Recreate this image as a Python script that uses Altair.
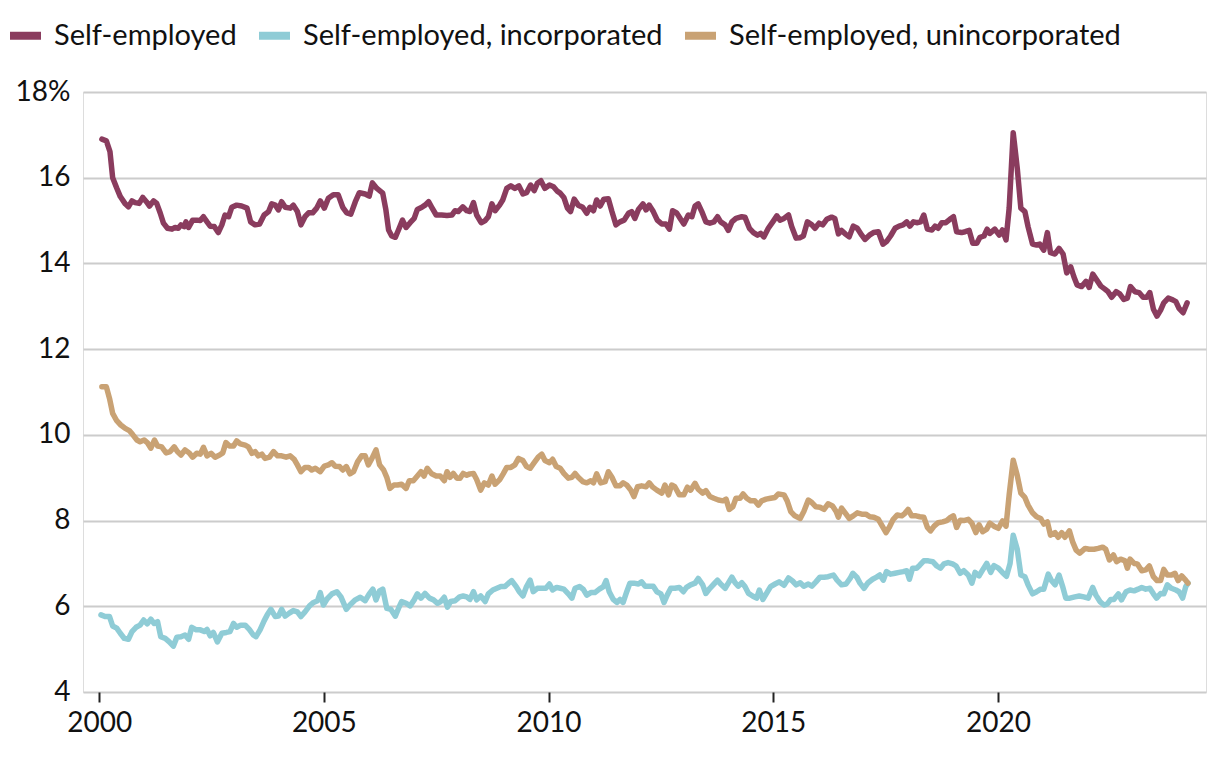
import altair as alt
import pandas as pd

series_names = ["Self-employed", "Self-employed, incorporated", "Self-employed, unincorporated"]
series_colors = ["#8a3c5e", "#8fccd6", "#c9a274"]
y_ticks = [4, 6, 8, 10, 12, 14, 16, 18]
x_ticks = [2000, 2005, 2010, 2015, 2020]

# (decimal year, percent)
self_employed = [
(2000.06,16.90),(2000.16,16.86),(2000.24,16.61),(2000.30,16.00),(2000.39,15.76),(2000.47,15.56),(2000.58,15.39),(2000.65,15.32),(2000.73,15.46),(2000.80,15.42),(2000.89,15.40),(2000.97,15.54),
(2001.05,15.44),(2001.12,15.34),(2001.21,15.46),(2001.28,15.40),(2001.36,15.17),(2001.43,14.94),(2001.52,14.82),(2001.62,14.80),(2001.69,14.84),(2001.76,14.82),(2001.82,14.90),(2001.89,14.86),(2001.93,14.97),(2001.99,14.84),
(2002.08,15.01),(2002.17,15.01),(2002.25,15.00),(2002.32,15.09),(2002.40,14.97),(2002.47,14.87),(2002.56,14.86),(2002.65,14.72),(2002.73,14.90),(2002.80,15.13),(2002.88,15.09),(2002.95,15.31),
(2003.06,15.36),(2003.17,15.34),(2003.29,15.29),(2003.37,14.97),(2003.47,14.90),(2003.57,14.92),(2003.67,15.13),(2003.77,15.21),(2003.84,15.39),(2003.92,15.36),(2003.99,15.25),
(2004.06,15.44),(2004.14,15.31),(2004.25,15.29),(2004.32,15.36),(2004.41,15.21),(2004.49,14.90),(2004.58,15.09),(2004.66,15.18),(2004.75,15.18),(2004.84,15.29),(2004.92,15.46),
(2005.01,15.29),(2005.10,15.52),(2005.21,15.60),(2005.32,15.60),(2005.42,15.31),(2005.51,15.18),(2005.60,15.15),(2005.70,15.44),(2005.79,15.65),(2005.92,15.62),
(2006.01,15.57),(2006.08,15.88),(2006.18,15.75),(2006.31,15.64),(2006.38,15.25),(2006.44,14.78),(2006.51,14.64),(2006.59,14.61),(2006.66,14.78),(2006.75,15.01),(2006.83,14.84),(2006.92,14.95),
(2007.01,15.05),(2007.08,15.26),(2007.18,15.31),(2007.25,15.36),(2007.33,15.44),(2007.40,15.31),(2007.50,15.13),(2007.62,15.13),(2007.74,15.12),(2007.85,15.13),(2007.92,15.23),(2007.99,15.21),
(2008.09,15.32),(2008.18,15.23),(2008.25,15.21),(2008.33,15.42),(2008.40,15.13),(2008.50,14.95),(2008.59,15.00),(2008.66,15.09),(2008.74,15.39),(2008.81,15.23),(2008.91,15.36),(2008.98,15.48),
(2009.07,15.75),(2009.16,15.81),(2009.25,15.75),(2009.34,15.81),(2009.43,15.62),(2009.51,15.65),(2009.60,15.83),(2009.68,15.70),(2009.75,15.87),(2009.83,15.93),(2009.92,15.75),
(2010.02,15.83),(2010.11,15.79),(2010.20,15.68),(2010.26,15.64),(2010.34,15.54),(2010.42,15.29),(2010.49,15.21),(2010.57,15.50),(2010.66,15.36),(2010.76,15.31),(2010.85,15.17),(2010.92,15.31),
(2011.00,15.23),(2011.07,15.48),(2011.15,15.34),(2011.23,15.50),(2011.33,15.51),(2011.41,15.21),(2011.50,14.90),(2011.59,14.97),(2011.68,15.01),(2011.78,15.17),(2011.85,15.21),(2011.92,15.05),
(2012.00,15.26),(2012.10,15.39),(2012.17,15.25),(2012.24,15.36),(2012.33,15.21),(2012.42,15.01),(2012.52,14.92),(2012.61,14.92),(2012.69,14.80),(2012.76,15.23),(2012.85,15.18),(2012.94,15.03),
(2013.01,14.92),(2013.11,15.13),(2013.19,15.09),(2013.26,15.34),(2013.33,15.39),(2013.41,15.21),(2013.50,14.97),(2013.59,14.94),(2013.68,14.97),(2013.76,15.09),(2013.83,14.97),(2013.93,14.90),
(2014.00,14.77),(2014.08,14.97),(2014.17,15.05),(2014.30,15.09),(2014.37,15.08),(2014.47,14.82),(2014.56,14.72),(2014.65,14.66),(2014.72,14.70),(2014.79,14.62),(2014.89,14.82),(2014.99,14.97),
(2015.08,15.11),(2015.15,15.01),(2015.24,15.05),(2015.34,15.13),(2015.41,14.86),(2015.51,14.59),(2015.59,14.60),(2015.67,14.64),(2015.76,14.97),(2015.86,14.90),(2015.93,14.82),
(2016.02,14.94),(2016.10,14.90),(2016.19,15.03),(2016.30,15.08),(2016.37,15.05),(2016.45,14.69),(2016.52,14.77),(2016.60,14.69),(2016.69,14.62),(2016.78,14.87),(2016.87,14.82),(2016.97,14.66),
(2017.04,14.56),(2017.14,14.66),(2017.23,14.72),(2017.34,14.74),(2017.44,14.45),(2017.52,14.51),(2017.61,14.64),(2017.71,14.82),(2017.80,14.87),(2017.89,14.90),(2017.97,14.97),
(2018.04,14.87),(2018.12,14.97),(2018.21,14.95),(2018.28,14.97),(2018.35,15.13),(2018.43,14.80),(2018.53,14.78),(2018.60,14.87),(2018.67,14.82),(2018.75,14.95),(2018.84,14.95),(2018.93,15.03),
(2019.01,15.09),(2019.08,14.74),(2019.19,14.72),(2019.27,14.74),(2019.36,14.77),(2019.44,14.47),(2019.53,14.47),(2019.60,14.61),(2019.69,14.64),(2019.76,14.80),(2019.82,14.70),(2019.93,14.80),
(2020.03,14.66),(2020.10,14.78),(2020.18,14.55),(2020.25,15.29),(2020.34,17.05),(2020.43,16.22),(2020.51,15.29),(2020.60,15.21),(2020.67,14.86),(2020.77,14.45),(2020.86,14.43),(2020.93,14.45),
(2021.02,14.31),(2021.10,14.72),(2021.17,14.25),(2021.27,14.22),(2021.36,14.35),(2021.45,14.22),(2021.53,13.78),(2021.62,13.92),(2021.69,13.69),(2021.76,13.50),(2021.86,13.46),(2021.96,13.58),
(2022.03,13.44),(2022.11,13.75),(2022.20,13.61),(2022.29,13.47),(2022.38,13.40),(2022.45,13.34),(2022.53,13.21),(2022.63,13.34),(2022.71,13.29),(2022.80,13.16),(2022.88,13.19),(2022.95,13.46),
(2023.05,13.34),(2023.14,13.32),(2023.23,13.21),(2023.31,13.21),(2023.38,13.32),(2023.46,12.93),(2023.54,12.77),(2023.62,12.91),(2023.69,13.08),(2023.79,13.19),(2023.89,13.15),(2023.96,13.11),
(2024.03,12.95),(2024.12,12.85),(2024.21,13.08),
]

incorporated = [
(2000.04,5.80),(2000.13,5.76),(2000.23,5.76),(2000.30,5.54),(2000.39,5.49),(2000.47,5.37),(2000.56,5.25),(2000.65,5.23),(2000.73,5.41),(2000.82,5.51),(2000.91,5.56),(2000.99,5.68),
(2001.07,5.59),(2001.15,5.70),(2001.22,5.60),(2001.30,5.64),(2001.37,5.29),(2001.47,5.25),(2001.56,5.17),(2001.65,5.07),(2001.73,5.28),(2001.82,5.29),(2001.91,5.33),(2001.99,5.23),
(2002.06,5.51),(2002.16,5.45),(2002.25,5.45),(2002.34,5.41),(2002.40,5.46),(2002.47,5.31),(2002.54,5.39),(2002.63,5.17),(2002.73,5.37),(2002.83,5.39),(2002.91,5.41),(2002.99,5.60),
(2003.06,5.51),(2003.15,5.56),(2003.25,5.56),(2003.34,5.46),(2003.43,5.33),(2003.49,5.29),(2003.58,5.45),(2003.67,5.66),(2003.74,5.80),(2003.82,5.93),(2003.92,5.76),(2003.99,5.77),
(2004.06,5.93),(2004.14,5.77),(2004.23,5.84),(2004.32,5.90),(2004.41,5.87),(2004.49,5.76),(2004.58,5.87),(2004.68,6.01),(2004.77,6.09),(2004.86,6.13),(2004.92,6.32),(2004.99,6.03),
(2005.07,6.17),(2005.18,6.29),(2005.29,6.34),(2005.38,6.22),(2005.50,5.93),(2005.58,6.03),(2005.70,6.15),(2005.81,6.21),(2005.92,6.13),
(2006.01,6.29),(2006.09,6.40),(2006.16,6.15),(2006.24,6.36),(2006.31,6.40),(2006.40,5.95),(2006.49,5.93),(2006.59,5.77),(2006.66,5.95),(2006.73,6.11),(2006.83,6.07),(2006.92,6.01),
(2007.01,6.15),(2007.08,6.29),(2007.16,6.19),(2007.25,6.30),(2007.35,6.19),(2007.44,6.15),(2007.53,6.07),(2007.60,6.11),(2007.68,6.21),(2007.75,5.98),(2007.82,6.11),(2007.92,6.13),
(2008.02,6.22),(2008.10,6.24),(2008.18,6.22),(2008.25,6.16),(2008.33,6.34),(2008.40,6.15),(2008.49,6.24),(2008.59,6.11),(2008.66,6.29),(2008.76,6.38),(2008.85,6.42),(2008.94,6.46),
(2009.03,6.46),(2009.11,6.54),(2009.18,6.60),(2009.28,6.46),(2009.35,6.34),(2009.43,6.24),(2009.51,6.46),(2009.59,6.61),(2009.66,6.34),(2009.75,6.42),(2009.85,6.42),(2009.94,6.42),
(2010.02,6.52),(2010.09,6.38),(2010.18,6.44),(2010.26,6.42),(2010.34,6.40),(2010.44,6.29),(2010.52,6.19),(2010.59,6.42),(2010.69,6.46),(2010.77,6.40),(2010.85,6.26),(2010.94,6.32),
(2011.03,6.32),(2011.13,6.40),(2011.22,6.46),(2011.28,6.60),(2011.35,6.34),(2011.44,6.16),(2011.52,6.09),(2011.59,6.16),(2011.66,6.09),(2011.74,6.34),(2011.81,6.54),(2011.90,6.54),
(2012.00,6.52),(2012.07,6.57),(2012.15,6.47),(2012.24,6.47),(2012.33,6.47),(2012.41,6.34),(2012.50,6.29),(2012.57,6.09),(2012.64,6.26),(2012.72,6.42),(2012.81,6.42),(2012.91,6.44),
(2013.00,6.34),(2013.07,6.44),(2013.16,6.50),(2013.26,6.54),(2013.33,6.65),(2013.43,6.50),(2013.50,6.30),(2013.59,6.42),(2013.68,6.52),(2013.76,6.61),(2013.83,6.52),(2013.93,6.42),
(2014.00,6.54),(2014.08,6.68),(2014.15,6.55),(2014.22,6.47),(2014.30,6.55),(2014.37,6.46),(2014.45,6.30),(2014.54,6.24),(2014.63,6.19),(2014.69,6.38),(2014.77,6.16),(2014.85,6.30),(2014.94,6.46),
(2015.04,6.52),(2015.13,6.57),(2015.24,6.49),(2015.34,6.66),(2015.43,6.59),(2015.51,6.50),(2015.60,6.55),(2015.68,6.47),(2015.78,6.52),(2015.86,6.47),(2015.95,6.57),
(2016.04,6.68),(2016.13,6.68),(2016.22,6.69),(2016.34,6.73),(2016.42,6.61),(2016.52,6.50),(2016.62,6.52),(2016.71,6.65),(2016.77,6.77),(2016.86,6.68),(2016.93,6.54),
(2017.02,6.42),(2017.11,6.55),(2017.21,6.63),(2017.30,6.68),(2017.37,6.73),(2017.45,6.61),(2017.52,6.81),(2017.61,6.75),(2017.71,6.77),(2017.80,6.79),(2017.89,6.81),(2017.97,6.83),
(2018.03,6.63),(2018.10,6.89),(2018.19,6.89),(2018.26,6.96),(2018.35,7.06),(2018.45,7.06),(2018.55,7.04),(2018.64,6.94),(2018.72,6.89),(2018.80,6.99),(2018.89,7.02),(2018.99,6.99),
(2019.07,6.94),(2019.16,6.77),(2019.24,6.83),(2019.34,6.73),(2019.42,6.54),(2019.49,6.79),(2019.58,6.71),(2019.66,6.85),(2019.75,7.00),(2019.84,6.79),(2019.91,6.95),
(2020.01,6.89),(2020.10,6.79),(2020.19,6.70),(2020.27,7.00),(2020.34,7.66),(2020.43,7.33),(2020.51,6.73),(2020.60,6.69),(2020.67,6.50),(2020.77,6.29),(2020.86,6.34),(2020.95,6.40),
(2021.02,6.40),(2021.12,6.75),(2021.19,6.60),(2021.27,6.50),(2021.36,6.73),(2021.44,6.46),(2021.51,6.19),(2021.60,6.19),(2021.71,6.22),(2021.81,6.24),(2021.91,6.22),
(2022.01,6.19),(2022.11,6.44),(2022.18,6.26),(2022.27,6.11),(2022.36,6.03),(2022.43,6.05),(2022.51,6.16),(2022.58,6.16),(2022.68,6.29),(2022.75,6.15),(2022.85,6.34),(2022.94,6.38),
(2023.03,6.36),(2023.12,6.40),(2023.20,6.44),(2023.29,6.40),(2023.38,6.42),(2023.46,6.29),(2023.53,6.19),(2023.62,6.30),(2023.69,6.29),(2023.77,6.50),(2023.86,6.42),(2023.96,6.38),
(2024.03,6.34),(2024.11,6.19),(2024.18,6.46),(2024.23,6.54),
]

unincorporated = [
(2000.06,11.12),(2000.16,11.12),(2000.23,10.85),(2000.30,10.50),(2000.39,10.33),(2000.48,10.23),(2000.58,10.15),(2000.67,10.10),(2000.75,10.00),(2000.84,9.88),(2000.91,9.84),
(2001.00,9.88),(2001.07,9.82),(2001.15,9.69),(2001.23,9.88),(2001.30,9.74),(2001.39,9.72),(2001.49,9.58),(2001.58,9.61),(2001.67,9.72),(2001.74,9.61),(2001.82,9.53),(2001.91,9.65),
(2002.00,9.58),(2002.08,9.48),(2002.17,9.57),(2002.25,9.55),(2002.32,9.71),(2002.40,9.51),(2002.49,9.57),(2002.58,9.48),(2002.68,9.53),(2002.75,9.58),(2002.82,9.82),(2002.90,9.74),(2002.99,9.74),
(2003.06,9.86),(2003.14,9.79),(2003.25,9.76),(2003.32,9.72),(2003.40,9.57),(2003.47,9.61),(2003.54,9.51),(2003.62,9.55),(2003.69,9.45),(2003.79,9.48),(2003.88,9.61),(2003.97,9.51),
(2004.06,9.51),(2004.16,9.48),(2004.25,9.51),(2004.34,9.43),(2004.41,9.30),(2004.49,9.14),(2004.58,9.24),(2004.66,9.24),(2004.73,9.18),(2004.81,9.22),(2004.92,9.14),
(2005.01,9.27),(2005.10,9.30),(2005.18,9.35),(2005.25,9.27),(2005.35,9.26),(2005.42,9.18),(2005.50,9.26),(2005.58,9.09),(2005.66,9.14),(2005.75,9.37),(2005.84,9.51),(2005.92,9.51),(2005.99,9.30),
(2006.07,9.45),(2006.16,9.65),(2006.24,9.30),(2006.33,9.18),(2006.40,9.01),(2006.47,8.75),(2006.56,8.83),(2006.64,8.83),(2006.73,8.85),(2006.83,8.75),(2006.90,8.93),(2006.99,8.93),
(2007.08,9.04),(2007.16,9.14),(2007.23,9.04),(2007.30,9.22),(2007.40,9.09),(2007.50,9.04),(2007.59,9.04),(2007.68,8.93),(2007.74,9.14),(2007.81,9.01),(2007.88,9.10),(2007.96,8.99),
(2008.03,8.99),(2008.10,9.10),(2008.18,9.06),(2008.25,9.09),(2008.33,9.10),(2008.40,8.96),(2008.49,8.71),(2008.57,8.88),(2008.66,8.83),(2008.74,9.04),(2008.81,8.85),(2008.91,8.95),(2008.99,9.09),
(2009.07,9.24),(2009.16,9.24),(2009.25,9.30),(2009.33,9.45),(2009.43,9.40),(2009.51,9.26),(2009.59,9.22),(2009.68,9.35),(2009.77,9.48),(2009.85,9.55),(2009.92,9.40),
(2010.02,9.35),(2010.09,9.43),(2010.17,9.26),(2010.26,9.22),(2010.34,9.10),(2010.44,8.99),(2010.52,9.01),(2010.59,9.10),(2010.66,9.01),(2010.76,8.91),(2010.85,8.88),(2010.94,8.93),
(2011.00,8.88),(2011.07,9.09),(2011.16,8.88),(2011.26,8.91),(2011.33,9.14),(2011.41,9.01),(2011.50,8.81),(2011.59,8.81),(2011.66,8.88),(2011.74,8.83),(2011.83,8.71),(2011.90,8.56),(2011.98,8.79),
(2012.07,8.81),(2012.17,8.79),(2012.24,8.88),(2012.32,8.78),(2012.41,8.71),(2012.52,8.64),(2012.59,8.83),(2012.67,8.60),(2012.74,8.83),(2012.81,8.79),(2012.91,8.60),
(2013.01,8.60),(2013.09,8.78),(2013.16,8.71),(2013.26,8.87),(2013.33,8.73),(2013.43,8.64),(2013.50,8.70),(2013.59,8.56),(2013.68,8.52),(2013.78,8.48),(2013.88,8.46),(2013.95,8.50),
(2014.02,8.26),(2014.10,8.32),(2014.17,8.52),(2014.26,8.52),(2014.33,8.62),(2014.41,8.52),(2014.50,8.46),(2014.59,8.46),(2014.67,8.36),(2014.74,8.46),(2014.84,8.50),(2014.94,8.52),
(2015.04,8.54),(2015.11,8.62),(2015.24,8.60),(2015.31,8.46),(2015.39,8.21),(2015.48,8.11),(2015.60,8.05),(2015.68,8.21),(2015.78,8.48),(2015.86,8.42),(2015.95,8.32),
(2016.04,8.31),(2016.13,8.26),(2016.22,8.39),(2016.32,8.34),(2016.40,8.21),(2016.45,8.08),(2016.52,8.29),(2016.60,8.18),(2016.69,8.05),(2016.78,8.11),(2016.87,8.18),(2016.97,8.15),
(2017.06,8.15),(2017.15,8.09),(2017.24,8.08),(2017.34,8.03),(2017.41,7.90),(2017.51,7.72),(2017.58,7.84),(2017.67,8.03),(2017.76,8.13),(2017.86,8.11),(2017.93,8.17),
(2018.00,8.26),(2018.08,8.11),(2018.18,8.11),(2018.26,8.09),(2018.35,8.08),(2018.43,7.84),(2018.50,7.76),(2018.58,7.87),(2018.67,7.95),(2018.77,7.97),(2018.86,8.00),(2018.95,8.08),
(2019.01,8.11),(2019.08,7.84),(2019.16,8.01),(2019.24,8.00),(2019.34,8.03),(2019.42,7.94),(2019.51,7.72),(2019.58,7.90),(2019.66,7.74),(2019.75,7.80),(2019.82,7.94),(2019.91,7.87),
(2020.01,7.82),(2020.10,7.99),(2020.18,7.87),(2020.25,8.60),(2020.34,9.41),(2020.43,9.05),(2020.51,8.64),(2020.60,8.54),(2020.67,8.36),(2020.77,8.18),(2020.86,8.09),(2020.95,8.05),
(2021.02,7.92),(2021.10,7.97),(2021.17,7.66),(2021.27,7.72),(2021.34,7.61),(2021.42,7.72),(2021.49,7.61),(2021.59,7.76),(2021.66,7.51),(2021.74,7.31),(2021.82,7.24),(2021.94,7.35),
(2022.03,7.33),(2022.14,7.33),(2022.23,7.35),(2022.33,7.38),(2022.40,7.33),(2022.48,7.08),(2022.57,7.20),(2022.64,7.04),(2022.73,7.10),(2022.83,7.06),(2022.88,6.89),(2022.94,7.10),
(2023.03,7.00),(2023.10,6.99),(2023.20,6.83),(2023.29,6.85),(2023.37,6.94),(2023.46,6.69),(2023.54,6.60),(2023.62,6.60),(2023.69,6.86),(2023.77,6.73),(2023.86,6.73),(2023.94,6.77),
(2024.01,6.60),(2024.09,6.71),(2024.16,6.63),(2024.23,6.54),
]

rows = []
for name, pts in zip(series_names, [self_employed, incorporated, unincorporated]):
    for t, v in pts:
        rows.append({"series": name, "year": t, "value": v})
df = pd.DataFrame(rows)

FONT = "Lato"

chart = alt.Chart(df).mark_line(
    strokeWidth=5.5, strokeJoin="round", strokeCap="round"
).encode(
    x=alt.X(
        "year:Q",
        scale=alt.Scale(domain=[1999.64, 2024.63], nice=False, zero=False),
        axis=alt.Axis(
            values=x_ticks, format="d", title=None, grid=False, domain=False,
            ticks=True, tickSize=10, tickWidth=2, tickColor="#222222",
            labelPadding=7, labelFontSize=28, labelColor="#111111",
            labelFlush=False, labelFont=FONT,
        ),
    ),
    y=alt.Y(
        "value:Q",
        scale=alt.Scale(domain=[4, 18], nice=False, zero=False),
        axis=alt.Axis(
            values=y_ticks, title=None, grid=True, gridColor="#cccccc", gridWidth=2,
            domain=False, ticks=False, labelPadding=13, labelFontSize=28,
            labelColor="#111111", labelFont=FONT,
            labelExpr="datum.value == 18 ? '18%' : datum.label",
        ),
    ),
    color=alt.Color(
        "series:N",
        scale=alt.Scale(domain=series_names, range=series_colors),
        legend=alt.Legend(
            title=None, orient="none", legendX=-77, legendY=-76,
            direction="horizontal", symbolType="stroke", symbolSize=961,
            symbolStrokeWidth=8, labelFontSize=29, labelColor="#111111",
            labelFont=FONT, labelOffset=9, columnPadding=6, labelLimit=600,
            padding=0,
        ),
    ),
).properties(
    width=1123,
    height=600,
    autosize=alt.AutoSizeParams(type="none"),
    padding={"left": 75, "top": 84, "right": 6, "bottom": 58},
).configure_view(strokeWidth=0).configure(font=FONT)

chart.save("out.html", embed_options={"renderer": "svg", "actions": False})
